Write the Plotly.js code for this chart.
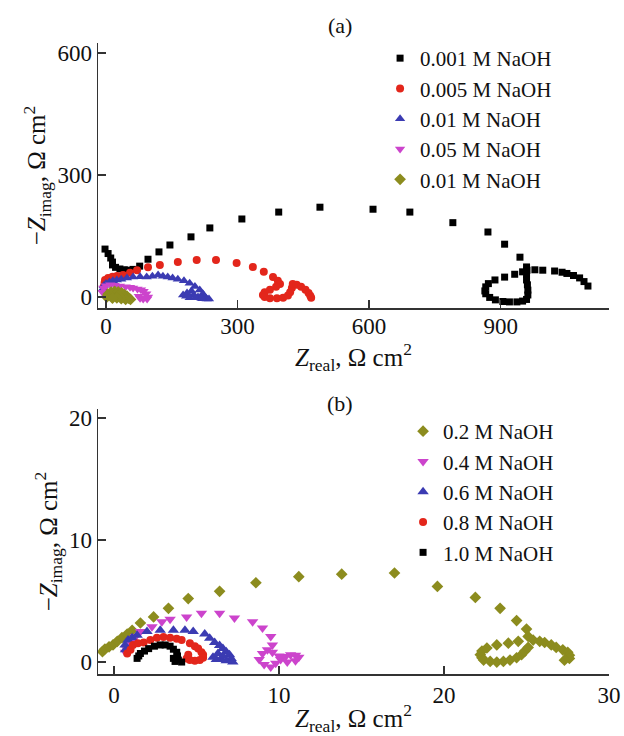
<!DOCTYPE html>
<html>
<head>
<meta charset="utf-8">
<script src="https://cdn.plot.ly/plotly-3.0.1.min.js"></script>
<style>html,body{margin:0;padding:0;background:#fff;}#chart{width:624px;height:736px;}</style>
</head>
<body>
<div id="chart"></div>
<script>
// Panel (a) series
const namesA = ["0.001 M NaOH", "0.005 M NaOH", "0.01 M NaOH", "0.05 M NaOH", "0.01 M NaOH"];
const a1x = [-2,5,11,15,15,22,32,42,50,62,77,96,121,146,194,237,310,394,488,609,693,791,871,909,944,959,950,932,909,887,872,866,864,866,875,888,905,920,937,950,959,962,962,961,959,959,960,978,996,1023,1040,1051,1066,1080,1090,1099];
const a1y = [118,107,96,86,79,73,69,67,66,68,76,93,111,128,148,170,192,209,221,216,209,183,160,130,98,74,62,56,49,42,33,25,15,8,-1,-7,-11,-12,-12,-10,-6,5,17,30,42,56,66,67,66,64,61,58,53,47,38,27];
const a2x = [-4,-5,-3,-2,5,15,25,39,55,71,96,123,164,207,251,298,335,360,381,392,397,388,374,362,358,362,374,390,404,415,420,424,426,435,445,455,462,466,468];
const a2y = [15,25,35,42,47,50,52,54,60,66,73,79,86,91,91,84,74,62,49,40,32,25,18,12,5,0,-3,-3,-2,4,12,22,32,30,25,18,10,3,-2];
const a3x = [-7,-5,0,8,16,25,35,48,62,78,93,106,119,130,141,152,164,178,191,203,214,221,226,230,235,220,210,200,195,185,176,183,191,205,218];
const a3y = [20,28,33,37,40,42,44,47,49,50,49,51,54,51,49,47,44,40,34,26,17,8,0,-5,-5,-4,0,5,15,10,5,2,-2,-2,-3];
const a4x = [-8,-6,0,10,20,32,45,55,62,72,80,86,92,96,94,85,78,75];
const a4y = [12,22,28,30,29,27,25,24,22,20,18,14,8,0,-5,-5,-3,2];
const a5x = [2,5,12,20,28,36,42,48,52,56,45,35,25,15];
const a5y = [0,7,12,14,13,10,6,2,-3,-6,-6,-4,-2,-3];

// Panel (b) series
const namesB = ["0.2 M NaOH", "0.4 M NaOH", "0.6 M NaOH", "0.8 M NaOH", "1.0 M NaOH"];
const b1x = [-0.7,-0.55,-0.3,-0.06,0.2,0.48,0.8,1.1,1.6,2.4,3.3,4.5,6.4,8.6,11.2,13.8,17.0,19.6,21.9,23.4,24.4,25.0,25.1,24.5,23.9,23.2,22.6,22.3,22.2,22.3,22.4,22.8,23.2,23.6,24.0,24.4,24.7,24.9,25.1,25.4,25.8,26.1,26.5,26.8,27.2,27.5,27.6,27.6,27.3];
const b1y = [0.85,1.07,1.25,1.4,1.7,2.0,2.3,2.6,3.2,3.7,4.4,5.2,5.8,6.5,7.0,7.2,7.3,6.2,5.3,4.4,3.4,2.7,2.1,1.7,1.55,1.4,1.15,0.9,0.6,0.35,0.16,0.05,0,0.05,0.16,0.35,0.6,0.9,1.2,1.8,1.7,1.6,1.4,1.2,1.0,0.8,0.55,0.3,0.15];
const b2x = [0.7,0.8,0.9,1.0,1.2,1.3,1.6,2.3,2.9,3.4,4.4,5.3,6.4,7.3,8.4,9.0,9.5,9.6,9.3,9.0,8.8,9.1,9.5,9.8,10.1,10.4,10.7,11.0,11.2,11.0,10.5,10.0,9.6];
const b2y = [0.8,1.0,1.3,1.6,1.9,2.1,2.5,2.9,3.3,3.5,3.7,4.0,4.0,3.6,3.3,2.8,2.1,1.4,1.0,0.7,0.2,-0.2,-0.4,-0.1,0.2,0.45,0.6,0.55,0.4,0.1,0.0,0.5,0.8];
const b3x = [0.7,0.67,0.85,1.1,1.4,2.0,2.8,3.6,4.3,4.8,5.5,5.8,6.1,6.4,6.6,6.8,7.0,7.1,7.2,6.8,6.5,6.2,6.0,6.3,6.6];
const b3y = [1.0,1.4,1.8,2.0,2.2,2.5,2.6,2.6,2.6,2.5,2.3,1.95,1.6,1.35,1.1,0.85,0.6,0.3,0,0.1,0.2,0.2,0.4,0.7,0.5];
const b4x = [0.8,1.0,1.15,1.45,1.8,2.2,2.6,3.0,3.4,3.8,4.1,4.6,4.9,5.1,5.3,5.4,5.4,5.2,4.9,4.6,4.4,4.5];
const b4y = [0.7,1.0,1.4,1.55,1.6,1.8,2.0,2.05,2.0,1.9,1.8,1.55,1.3,1.1,0.8,0.6,0.35,0.16,0.1,0.16,0.3,0.6];
const b5x = [1.4,1.5,1.6,1.85,2.1,2.45,2.8,3.1,3.4,3.6,3.8,3.85,3.9,4.1,3.7,3.6];
const b5y = [0.3,0.5,0.7,0.9,1.1,1.3,1.4,1.4,1.3,1.05,0.8,0.5,0.16,0,0.05,0.3];

const C = {black:'#000000', red:'#e3261b', blue:'#3b3bb2', mag:'#cc44cc', olive:'#8c8c1e'};
const FONT = 'Liberation Serif, Times New Roman, serif';

function tr(x, y, name, color, symbol, size, xa, ya, leg) {
  return {x:x, y:y, name:name, type:'scatter', mode:'markers', xaxis:xa, yaxis:ya, legend:leg,
          marker:{color:color, symbol:symbol, size:size, line:{width:0}}};
}

const data = [
  tr(a1x, a1y, namesA[0], C.black, 'square', 7, 'x', 'y', 'legend'),
  tr(a2x, a2y, namesA[1], C.red, 'circle', 8, 'x', 'y', 'legend'),
  tr(a3x, a3y, namesA[2], C.blue, 'triangle-up', 9, 'x', 'y', 'legend'),
  tr(a4x, a4y, namesA[3], C.mag, 'triangle-down', 9, 'x', 'y', 'legend'),
  tr(a5x, a5y, namesA[4], C.olive, 'diamond', 9, 'x', 'y', 'legend'),
  tr(b1x, b1y, namesB[0], C.olive, 'diamond', 9, 'x2', 'y2', 'legend2'),
  tr(b2x, b2y, namesB[1], C.mag, 'triangle-down', 10, 'x2', 'y2', 'legend2'),
  tr(b3x, b3y, namesB[2], C.blue, 'triangle-up', 10, 'x2', 'y2', 'legend2'),
  tr(b4x, b4y, namesB[3], C.red, 'circle', 8, 'x2', 'y2', 'legend2'),
  tr(b5x, b5y, namesB[4], C.black, 'square', 7, 'x2', 'y2', 'legend2')
];

const axBase = {showgrid:false, zeroline:false, showline:true, linecolor:'#333', linewidth:1.5,
  ticks:'inside', ticklen:8, tickwidth:1.5, tickcolor:'#333', tickfont:{family:FONT, size:23, color:'#111'}};
const xTitle = {text:'<i>Z</i><sub>real</sub>, Ω cm<sup>2</sup>', font:{family:FONT, size:25, color:'#111'}, standoff:4};
const yTitle = {text:'−<i>Z</i><sub>imag</sub>, Ω cm<sup>2</sup>', font:{family:FONT, size:25, color:'#111'}, standoff:4};

const layout = {
  width:624, height:736,
  margin:{l:98, r:15, t:0, b:0},
  paper_bgcolor:'#fff', plot_bgcolor:'#fff',
  font:{family:FONT, color:'#111'},
  xaxis:Object.assign({}, axBase, {domain:[0,1], anchor:'y', range:[-18,1147], tickvals:[0,300,600,900], ticklabelstandoff:-3, title:xTitle}),
  yaxis:Object.assign({}, axBase, {domain:[1-308/736, 1-43/736], anchor:'x', range:[-27,625], tickvals:[0,300,600], title:yTitle}),
  xaxis2:Object.assign({}, axBase, {domain:[0,1], anchor:'y2', range:[-0.97,30], tickvals:[0,10,20,30], title:xTitle}),
  yaxis2:Object.assign({}, axBase, {domain:[1-674/736, 1-409/736], anchor:'x2', range:[-0.98,20.74], tickvals:[0,10,20], title:yTitle}),
  legend:{x:0.552, y:1-38/736, xanchor:'left', yanchor:'top', bgcolor:'rgba(0,0,0,0)', font:{family:FONT, size:21, color:'#111'}},
  legend2:{x:0.597, y:1-411/736, xanchor:'left', yanchor:'top', bgcolor:'rgba(0,0,0,0)', font:{family:FONT, size:21, color:'#111'}},
  showlegend:true,
  annotations:[
    {text:'(a)', xref:'paper', yref:'paper', x:(340-98)/511, y:1-26/736, yanchor:'middle', showarrow:false, font:{family:FONT, size:22, color:'#111'}},
    {text:'(b)', xref:'paper', yref:'paper', x:(340-98)/511, y:1-403/736, yanchor:'middle', showarrow:false, font:{family:FONT, size:22, color:'#111'}}
  ]
};

Plotly.newPlot('chart', data, layout, {displayModeBar:false, staticPlot:true});
</script>
</body>
</html>
